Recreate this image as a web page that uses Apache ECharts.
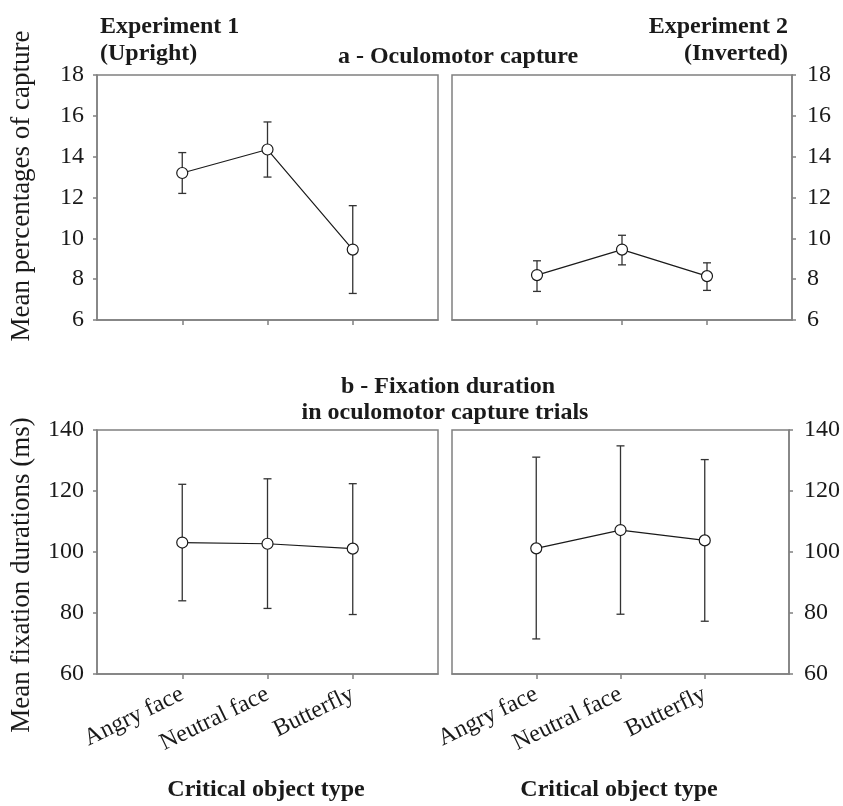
<!DOCTYPE html>
<html>
<head>
<meta charset="utf-8">
<script src="https://cdn.jsdelivr.net/npm/echarts@6/dist/echarts.min.js"></script>
<style>
    html, body { margin: 0; padding: 0; background: #fff; }
    #chart { width: 843px; height: 806px; }
</style>
</head>
<body>
<div id="chart"></div>
<script>
const categories = ['Angry face', 'Neutral face', 'Butterfly'];

// a - oculomotor capture (%)
const captureExp1 = [13.2, 14.35, 9.45];
const captureExp1Low = [12.2, 13.0, 7.3];
const captureExp1High = [14.2, 15.7, 11.6];
const captureExp2 = [8.2, 9.45, 8.15];
const captureExp2Low = [7.4, 8.7, 7.45];
const captureExp2High = [8.9, 10.15, 8.8];

// b - fixation duration (ms)
const fixationExp1 = [103.1, 102.7, 101.1];
const fixationExp1Low = [84.0, 81.5, 79.5];
const fixationExp1High = [122.2, 124.0, 122.4];
const fixationExp2 = [101.2, 107.2, 103.8];
const fixationExp2Low = [71.5, 79.6, 77.3];
const fixationExp2High = [131.1, 134.8, 130.3];

const captureTicks = { min: 6, max: 18, interval: 2 };
const fixationTicks = { min: 60, max: 140, interval: 20 };

const serif = 'Liberation Serif';
const colorFrame = '#808080';
const colorInk = '#1a1a1a';

// пустые категории по краям, чтобы точки стояли на 1/4, 2/4, 3/4 ширины
const xCats = [''].concat(categories, ['']);

function xAxisFor(gridIndex, withLabels) {
    return {
        type: 'category',
        gridIndex: gridIndex,
        data: xCats,
        boundaryGap: false,
        axisLine: { lineStyle: { color: colorFrame, width: 1.5 } },
        axisTick: {
            length: 5,
            interval: (i) => i > 0 && i < xCats.length - 1,
            lineStyle: { color: colorFrame, width: 1.5 }
        },
        axisLabel: {
            show: withLabels,
            interval: 0,
            rotate: 26,
            margin: 19,
            fontFamily: serif,
            fontSize: 24,
            color: colorInk
        },
        splitLine: { show: false }
    };
}

function yAxisFor(gridIndex, ticks, position) {
    return {
        type: 'value',
        gridIndex: gridIndex,
        position: position,
        min: ticks.min,
        max: ticks.max,
        interval: ticks.interval,
        axisLine: { show: true, lineStyle: { color: colorFrame, width: 1.5 } },
        axisTick: { show: true, length: 4, lineStyle: { color: colorFrame, width: 1.5 } },
        axisLabel: {
            margin: position === 'right' ? 15 : 13,
            fontFamily: serif,
            fontSize: 24,
            color: colorInk
        },
        splitLine: { show: false }
    };
}

function toPairs(vals) {
    return categories.map((c, i) => [c, vals[i]]);
}

function meanSeries(gridIndex, vals) {
    return {
        type: 'line',
        xAxisIndex: gridIndex,
        yAxisIndex: gridIndex,
        data: toPairs(vals),
        symbol: 'circle',
        symbolSize: 11,
        lineStyle: { color: colorInk, width: 1.2 },
        itemStyle: { color: '#fff', borderColor: colorInk, borderWidth: 1.2 },
        z: 3,
        silent: true
    };
}

function errorSeries(gridIndex, low, high) {
    return {
        type: 'custom',
        xAxisIndex: gridIndex,
        yAxisIndex: gridIndex,
        data: categories.map((c, i) => [c, low[i], high[i]]),
        z: 2,
        silent: true,
        renderItem: (params, api) => {
            const x = api.value(0);
            const lo = api.coord([x, api.value(1)]);
            const hi = api.coord([x, api.value(2)]);
            const cap = 4;
            const style = { stroke: '#333', lineWidth: 1.3 };
            return {
                type: 'group',
                children: [
                    { type: 'line', shape: { x1: lo[0], y1: lo[1], x2: hi[0], y2: hi[1] }, style: style },
                    { type: 'line', shape: { x1: hi[0] - cap, y1: hi[1], x2: hi[0] + cap, y2: hi[1] }, style: style },
                    { type: 'line', shape: { x1: lo[0] - cap, y1: lo[1], x2: lo[0] + cap, y2: lo[1] }, style: style }
                ]
            };
        }
    };
}

function label(text, x, y, opts) {
    return {
        type: 'text',
        x: x,
        y: y,
        rotation: (opts && opts.rotation) || 0,
        style: {
            text: text,
            fontFamily: serif,
            fontSize: (opts && opts.fontSize) || 24,
            fontWeight: (opts && opts.bold) ? 'bold' : 'normal',
            fill: colorInk,
            align: (opts && opts.align) || 'left',
            verticalAlign: 'middle'
        }
    };
}

const gridStyle = { show: true, borderColor: colorFrame, borderWidth: 1.5, backgroundColor: 'transparent' };

const chart = echarts.init(document.getElementById('chart'), null, { renderer: 'canvas' });
chart.setOption({
    animation: false,
    backgroundColor: '#fff',
    grid: [
        Object.assign({ left: 97, top: 75, width: 341, height: 245 }, gridStyle),
        Object.assign({ left: 452, top: 75, width: 340, height: 245 }, gridStyle),
        Object.assign({ left: 97, top: 430, width: 341, height: 244 }, gridStyle),
        Object.assign({ left: 452, top: 430, width: 340, height: 244 }, gridStyle)
    ],
    xAxis: [
        xAxisFor(0, false),
        xAxisFor(1, false),
        xAxisFor(2, true),
        xAxisFor(3, true)
    ],
    yAxis: [
        yAxisFor(0, captureTicks, 'left'),
        yAxisFor(1, captureTicks, 'right'),
        yAxisFor(2, fixationTicks, 'left'),
        yAxisFor(3, fixationTicks, 'right')
    ],
    series: [
        errorSeries(0, captureExp1Low, captureExp1High),
        meanSeries(0, captureExp1),
        errorSeries(1, captureExp2Low, captureExp2High),
        meanSeries(1, captureExp2),
        errorSeries(2, fixationExp1Low, fixationExp1High),
        meanSeries(2, fixationExp1),
        errorSeries(3, fixationExp2Low, fixationExp2High),
        meanSeries(3, fixationExp2)
    ],
    graphic: [
        label('Experiment 1', 100, 27, { bold: true }),
        label('(Upright)', 100, 54, { bold: true }),
        label('Experiment 2', 788, 27, { bold: true, align: 'right' }),
        label('(Inverted)', 788, 54, { bold: true, align: 'right' }),
        label('a - Oculomotor capture', 458, 57, { bold: true, align: 'center' }),
        label('b - Fixation duration', 448, 387, { bold: true, align: 'center' }),
        label('in oculomotor capture trials', 445, 413, { bold: true, align: 'center' }),
        label('Mean percentages of capture', 22, 186, { fontSize: 27, align: 'center', rotation: Math.PI / 2 }),
        label('Mean fixation durations (ms)', 22, 575, { fontSize: 27, align: 'center', rotation: Math.PI / 2 }),
        label('Critical object type', 266, 790, { bold: true, align: 'center' }),
        label('Critical object type', 619, 790, { bold: true, align: 'center' })
    ]
});
</script>
</body>
</html>
